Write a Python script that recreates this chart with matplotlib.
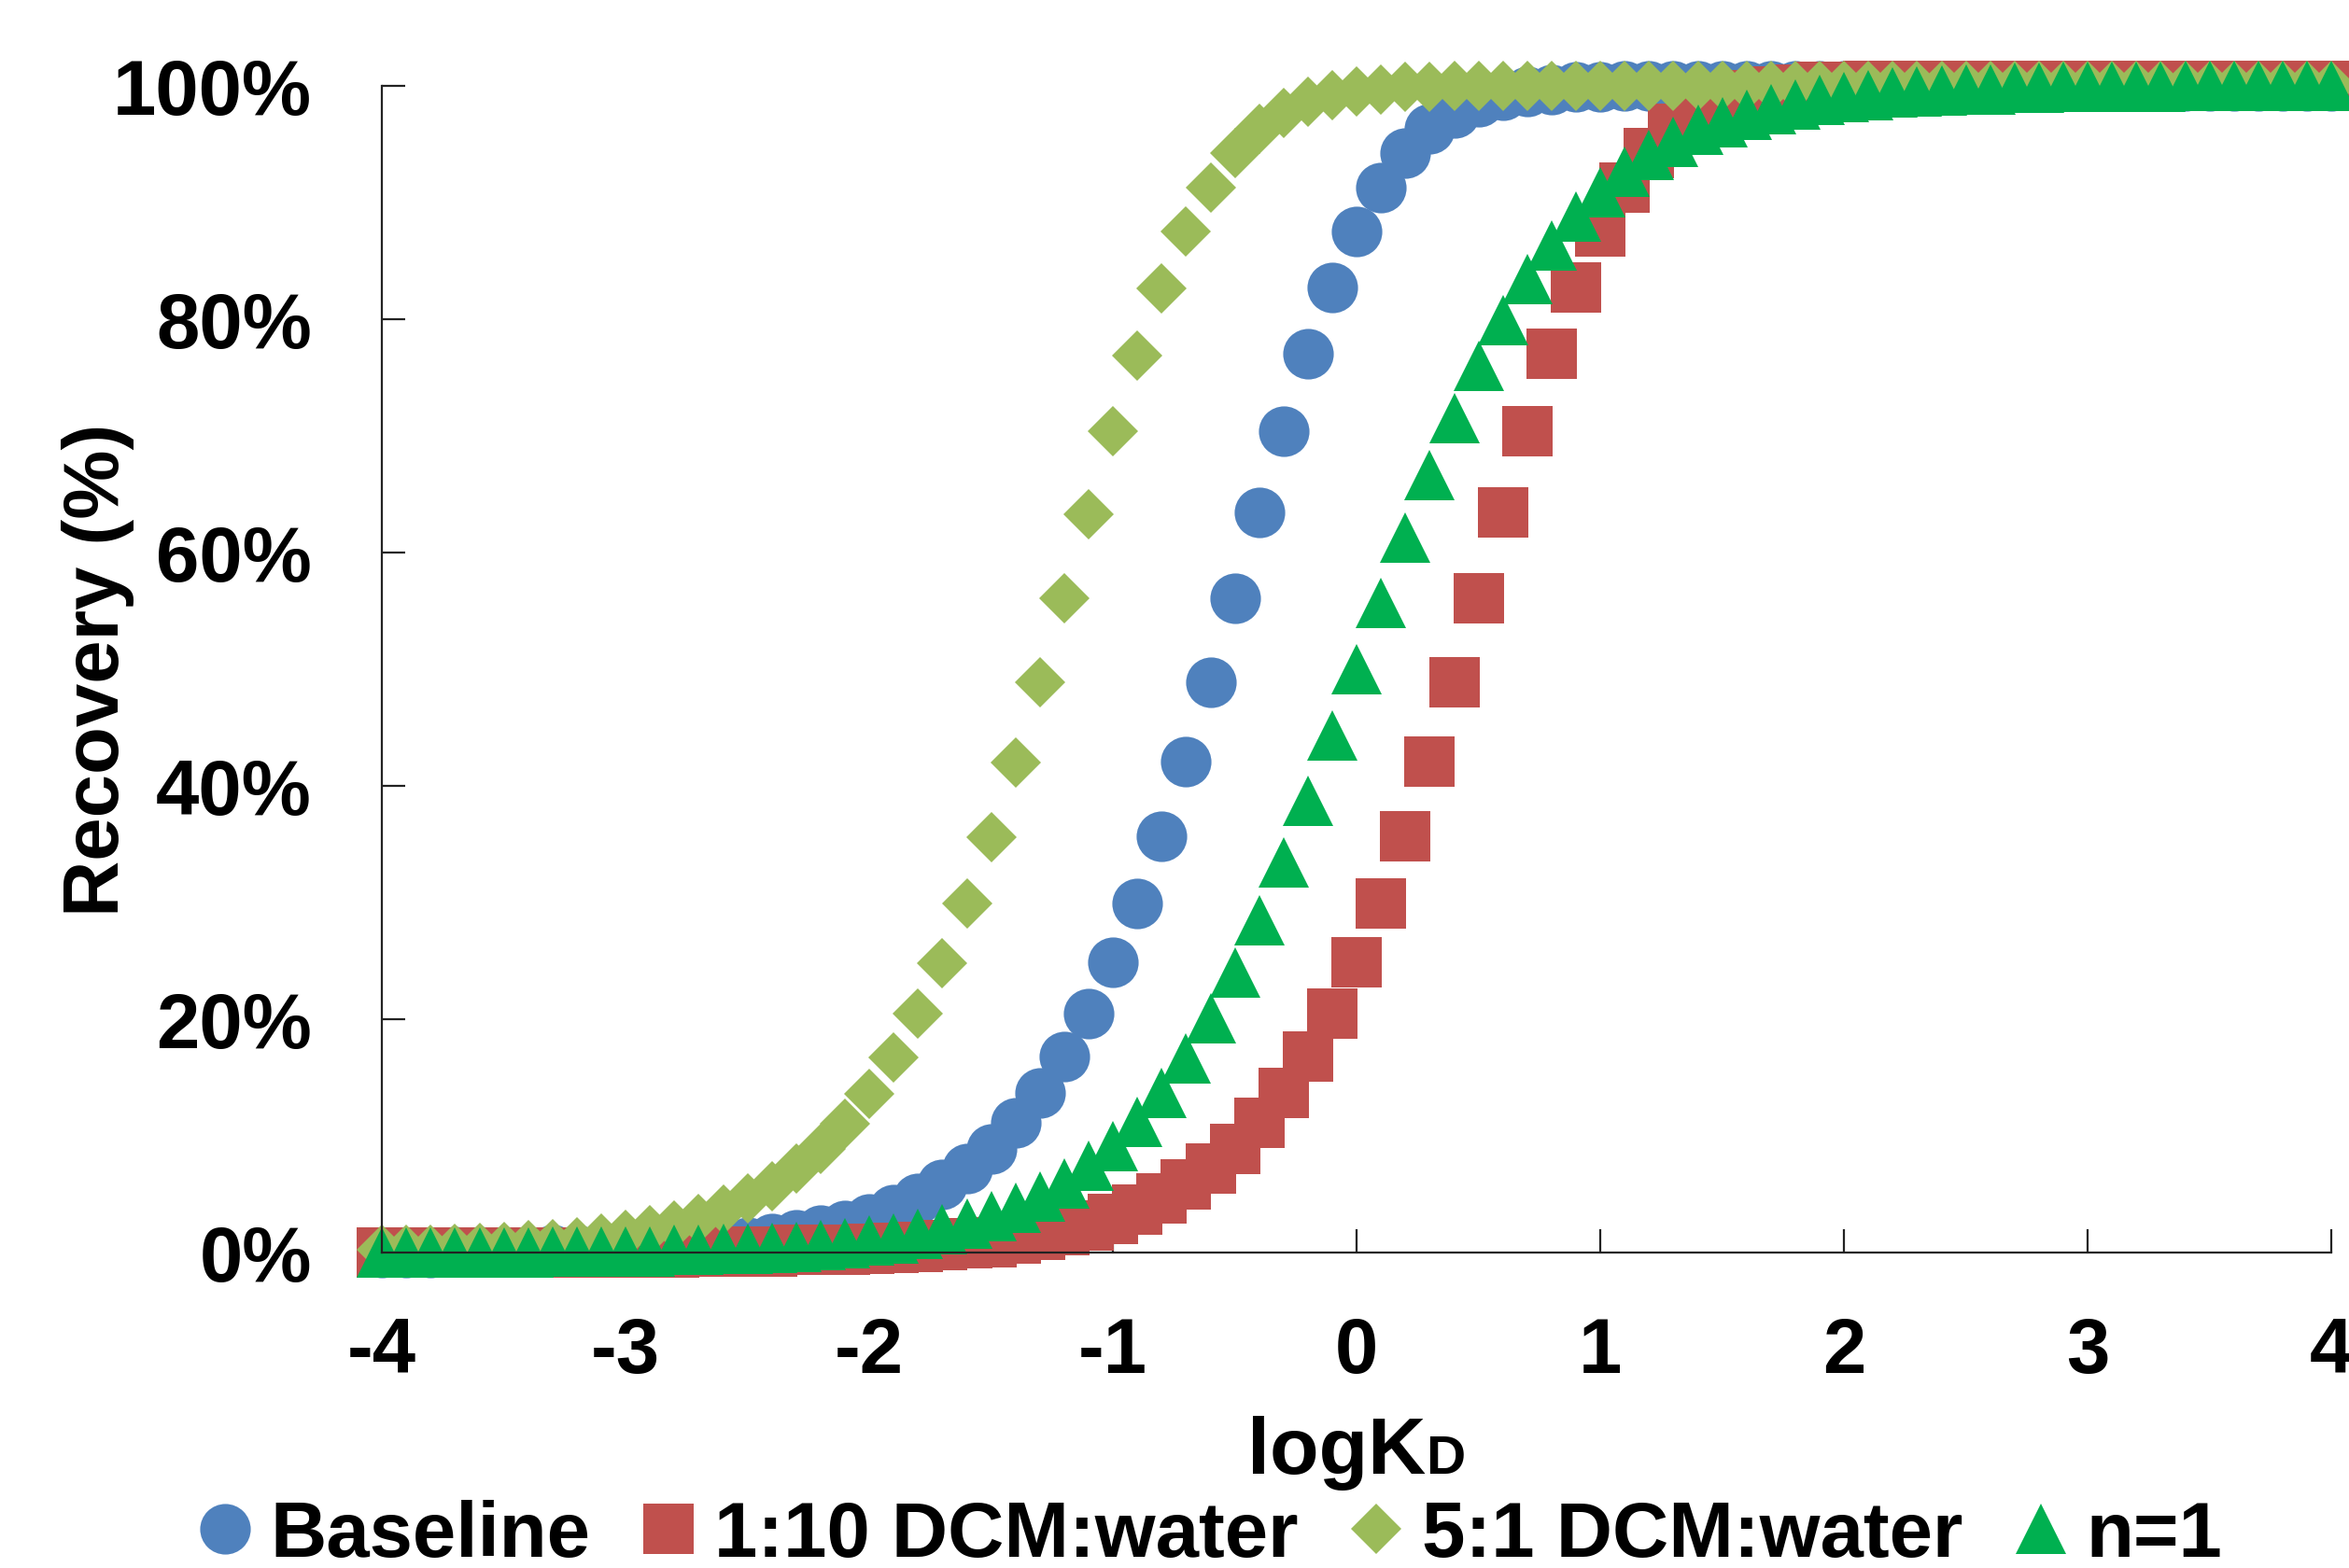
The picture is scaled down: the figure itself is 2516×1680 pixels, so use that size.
import matplotlib
matplotlib.use("Agg")
import matplotlib.pyplot as plt
from matplotlib.ticker import PercentFormatter

plt.rcParams['font.family'] = ['Liberation Sans', 'DejaVu Sans']
plt.rcParams['font.weight'] = 'bold'
plt.rcParams['axes.unicode_minus'] = False

#------------------------------------------------------------
# data: recovery (%) against logKD, step 0.1
log_kd = [-4.0, -3.9, -3.8, -3.7, -3.6, -3.5, -3.4, -3.3, -3.2, -3.1,
          -3.0, -2.9, -2.8, -2.7, -2.6, -2.5, -2.4, -2.3, -2.2, -2.1,
          -2.0, -1.9, -1.8, -1.7, -1.6, -1.5, -1.4, -1.3, -1.2, -1.1,
          -1.0, -0.9, -0.8, -0.7, -0.6, -0.5, -0.4, -0.3, -0.2, -0.1,
          0.0, 0.1, 0.2, 0.3, 0.4, 0.5, 0.6, 0.7, 0.8, 0.9,
          1.0, 1.1, 1.2, 1.3, 1.4, 1.5, 1.6, 1.7, 1.8, 1.9,
          2.0, 2.1, 2.2, 2.3, 2.4, 2.5, 2.6, 2.7, 2.8, 2.9,
          3.0, 3.1, 3.2, 3.3, 3.4, 3.5, 3.6, 3.7, 3.8, 3.9,
          4.0]

baseline = [0.0, 0.0, 0.0, 0.1, 0.1, 0.1, 0.1, 0.2, 0.2, 0.2,
            0.3, 0.4, 0.5, 0.6, 0.8, 0.9, 1.2, 1.5, 1.9, 2.3,
            2.9, 3.7, 4.6, 5.8, 7.2, 8.9, 11.1, 13.7, 16.8, 20.5,
            24.9, 29.9, 35.7, 42.1, 48.9, 56.1, 63.4, 70.4, 77.0, 82.7,
            87.5, 91.3, 94.2, 96.3, 97.7, 98.6, 99.2, 99.5, 99.7, 99.9,
            99.9, 100.0, 100.0, 100.0, 100.0, 100.0, 100.0, 100.0, 100.0, 100.0,
            100.0, 100.0, 100.0, 100.0, 100.0, 100.0, 100.0, 100.0, 100.0, 100.0,
            100.0, 100.0, 100.0, 100.0, 100.0, 100.0, 100.0, 100.0, 100.0, 100.0,
            100.0]

dcm_1_10 = [0.0, 0.0, 0.0, 0.0, 0.0, 0.0, 0.0, 0.0, 0.0, 0.0,
            0.0, 0.0, 0.0, 0.1, 0.1, 0.1, 0.1, 0.2, 0.2, 0.2,
            0.3, 0.4, 0.5, 0.6, 0.8, 0.9, 1.2, 1.5, 1.9, 2.3,
            2.9, 3.7, 4.6, 5.8, 7.2, 8.9, 11.1, 13.7, 16.8, 20.5,
            24.9, 29.9, 35.7, 42.1, 48.9, 56.1, 63.4, 70.4, 77.0, 82.7,
            87.5, 91.3, 94.2, 96.3, 97.7, 98.6, 99.2, 99.5, 99.7, 99.9,
            99.9, 100.0, 100.0, 100.0, 100.0, 100.0, 100.0, 100.0, 100.0, 100.0,
            100.0, 100.0, 100.0, 100.0, 100.0, 100.0, 100.0, 100.0, 100.0, 100.0,
            100.0]

dcm_5_1 = [0.2, 0.2, 0.2, 0.3, 0.4, 0.5, 0.6, 0.7, 0.9, 1.2,
           1.5, 1.9, 2.3, 2.9, 3.7, 4.6, 5.7, 7.2, 8.9, 11.0,
           13.6, 16.7, 20.5, 24.8, 29.9, 35.6, 42.0, 48.9, 56.1, 63.3,
           70.4, 76.9, 82.6, 87.5, 91.3, 94.2, 96.3, 97.7, 98.6, 99.2,
           99.5, 99.7, 99.9, 99.9, 100.0, 100.0, 100.0, 100.0, 100.0, 100.0,
           100.0, 100.0, 100.0, 100.0, 100.0, 100.0, 100.0, 100.0, 100.0, 100.0,
           100.0, 100.0, 100.0, 100.0, 100.0, 100.0, 100.0, 100.0, 100.0, 100.0,
           100.0, 100.0, 100.0, 100.0, 100.0, 100.0, 100.0, 100.0, 100.0, 100.0,
           100.0]

n_1 = [0.0, 0.0, 0.0, 0.0, 0.0, 0.0, 0.0, 0.1, 0.1, 0.1,
       0.1, 0.1, 0.2, 0.2, 0.3, 0.3, 0.4, 0.5, 0.6, 0.8,
       1.0, 1.2, 1.6, 2.0, 2.5, 3.1, 3.8, 4.8, 5.9, 7.4,
       9.1, 11.2, 13.7, 16.6, 20.1, 24.0, 28.5, 33.4, 38.7, 44.3,
       50.0, 55.7, 61.3, 66.6, 71.5, 76.0, 79.9, 83.4, 86.3, 88.8,
       90.9, 92.6, 94.1, 95.2, 96.2, 96.9, 97.5, 98.0, 98.4, 98.8,
       99.0, 99.2, 99.4, 99.5, 99.6, 99.7, 99.7, 99.8, 99.8, 99.9,
       99.9, 99.9, 99.9, 99.9, 100.0, 100.0, 100.0, 100.0, 100.0, 100.0,
       100.0]

series_labels = ['Baseline', '1:10 DCM:water', '5:1 DCM:water', 'n=1']
x_ticks = [-4, -3, -2, -1, 0, 1, 2, 3, 4]
y_ticks = [0, 20, 40, 60, 80, 100]

#------------------------------------------------------------
# plot
fig = plt.figure(figsize=(25.16, 16.81), dpi=100)
fig.subplots_adjust(left=0.1626, right=0.9925, bottom=0.2011, top=0.9447)
ax = fig.add_subplot(111)

styles = [dict(marker='o', color='#4F81BD', ms=39),
          dict(marker='s', color='#C0504D', ms=39),
          dict(marker='D', color='#9BBB59', ms=28),
          dict(marker='^', color='#00B050', ms=39)]

handles = []
for values, st in zip([baseline, dcm_1_10, dcm_5_1, n_1], styles):
    h, = ax.plot(log_kd, values, linestyle='none', marker=st['marker'],
                 markersize=st['ms'], markerfacecolor=st['color'],
                 markeredgewidth=0, clip_on=False)
    handles.append(h)

ax.set_xlim(-4, 4)
ax.set_ylim(0, 100)
ax.set_xticks(x_ticks)
ax.set_yticks(y_ticks)
ax.yaxis.set_major_formatter(PercentFormatter(100, decimals=0))

for side in ['top', 'right']:
    ax.spines[side].set_visible(False)
for side in ['left', 'bottom']:
    ax.spines[side].set_linewidth(1.6)
    ax.spines[side].set_color('#222222')

ax.tick_params(axis='x', direction='in', length=18, width=1.6, pad=48,
               labelsize=60, color='#222222')
ax.tick_params(axis='y', direction='in', length=18, width=1.6, pad=54,
               labelsize=60, color='#222222')
for lab in ax.get_xticklabels() + ax.get_yticklabels():
    lab.set_fontweight('bold')

ax.set_ylabel('Recovery (%)', fontsize=60, fontweight='bold')
ax.yaxis.set_label_coords(-0.127, 0.5)

# x label: logK with a smaller D on the same baseline
fig.text(1527 / 2516, 1 - 1579 / 1681, 'logK', fontsize=62, fontweight='bold',
         ha='right', va='baseline')
fig.text(1527 / 2516, 1 - 1579 / 1681, 'D', fontsize=42, fontweight='bold',
         ha='left', va='baseline')

fig.legend(handles, series_labels, ncol=4, loc='center',
           bbox_to_anchor=(1296 / 2516, 1 - 1646 / 1681), frameon=False,
           fontsize=60, handlelength=0.7, handletextpad=0.23,
           columnspacing=0.66, borderpad=0, borderaxespad=0, numpoints=1)

plt.savefig('out.png', dpi=100)
